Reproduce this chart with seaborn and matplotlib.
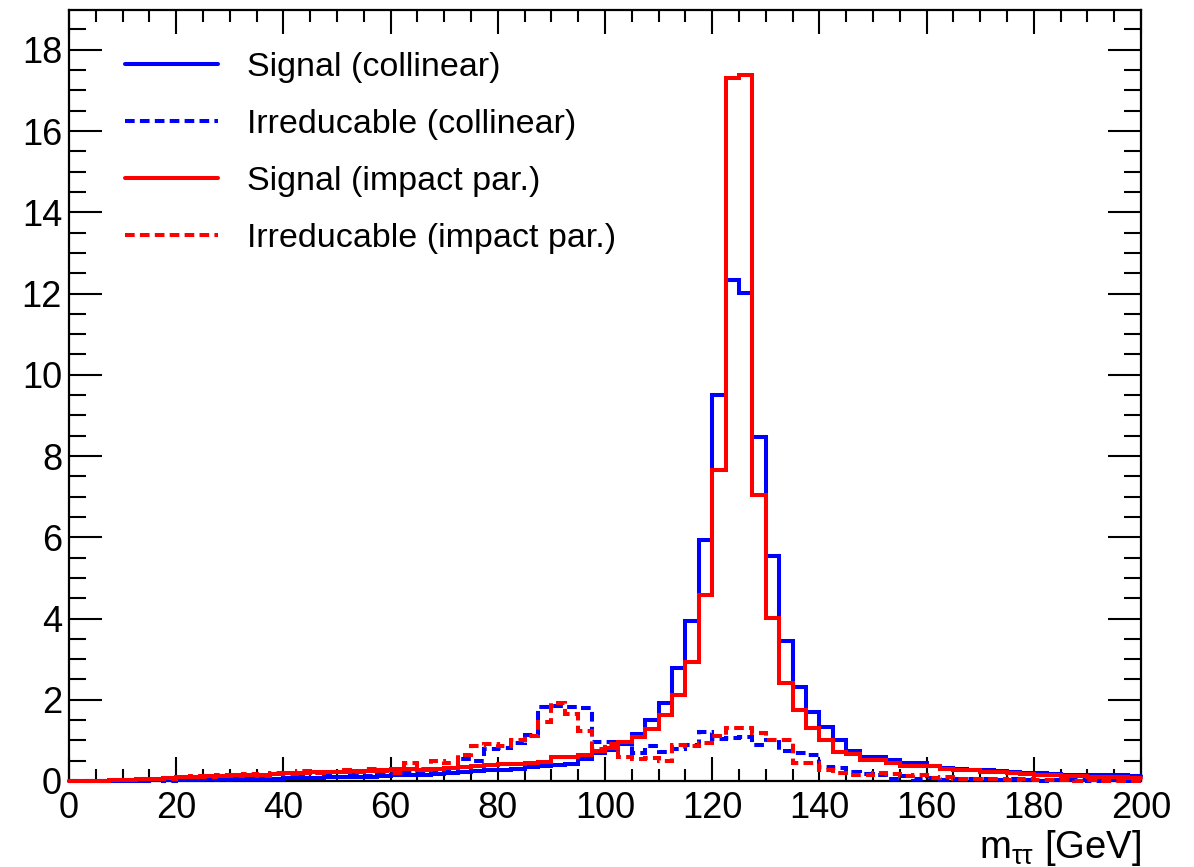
import numpy as np
import pandas as pd
import matplotlib
matplotlib.use("Agg")
import matplotlib.pyplot as plt
from matplotlib.ticker import MultipleLocator
import seaborn as sns

# Di-tau invariant mass, 2.5 GeV bins from 0 to 200 GeV
bin_width = 2.5
mass_range = (0.0, 200.0)

signal_collinear = [
    0.00, 0.00, 0.00, 0.00, 0.01, 0.01, 0.02, 0.02, 0.03, 0.03,
    0.04, 0.04, 0.05, 0.05, 0.06, 0.06, 0.07, 0.07, 0.08, 0.09,
    0.10, 0.10, 0.11, 0.12, 0.14, 0.15, 0.16, 0.17, 0.20, 0.22,
    0.25, 0.26, 0.28, 0.30, 0.34, 0.36, 0.40, 0.42, 0.55, 0.68,
    0.77, 0.92, 1.15, 1.50, 1.92, 2.77, 3.95, 5.94, 9.50, 12.33,
    12.02, 8.47, 5.53, 3.44, 2.31, 1.71, 1.33, 1.01, 0.75, 0.59,
    0.59, 0.52, 0.45, 0.45, 0.36, 0.33, 0.30, 0.28, 0.26, 0.24,
    0.22, 0.20, 0.19, 0.18, 0.16, 0.15, 0.15, 0.16, 0.15, 0.12,
]

irreducible_collinear = [
    0.00, 0.00, 0.00, 0.00, 0.00, 0.01, 0.02, 0.01, 0.04, 0.02,
    0.05, 0.03, 0.06, 0.04, 0.07, 0.05, 0.08, 0.09, 0.07, 0.12,
    0.10, 0.14, 0.12, 0.18, 0.15, 0.22, 0.20, 0.25, 0.30, 0.55,
    0.50, 0.80, 0.82, 0.93, 1.14, 1.83, 1.85, 1.82, 1.80, 0.96,
    0.96, 0.95, 0.70, 0.87, 0.71, 0.80, 0.89, 1.20, 1.04, 1.06,
    1.08, 0.89, 1.00, 0.73, 0.69, 0.63, 0.34, 0.33, 0.22, 0.18,
    0.15, 0.06, 0.12, 0.04, 0.08, 0.03, 0.05, 0.04, 0.05, 0.03,
    0.04, 0.02, 0.01, 0.03, 0.02, 0.03, 0.01, 0.02, 0.02, 0.01,
]

signal_impact = [
    0.01, 0.01, 0.01, 0.02, 0.03, 0.04, 0.06, 0.07, 0.09, 0.10,
    0.12, 0.12, 0.14, 0.15, 0.16, 0.17, 0.19, 0.20, 0.21, 0.22,
    0.23, 0.24, 0.25, 0.27, 0.29, 0.30, 0.27, 0.29, 0.32, 0.34,
    0.37, 0.39, 0.42, 0.42, 0.45, 0.47, 0.58, 0.60, 0.63, 0.75,
    0.82, 0.96, 1.08, 1.29, 1.63, 2.12, 2.94, 4.57, 7.65, 17.30,
    17.39, 7.03, 4.02, 2.42, 1.75, 1.31, 1.00, 0.71, 0.66, 0.52,
    0.52, 0.45, 0.38, 0.38, 0.37, 0.30, 0.28, 0.26, 0.22, 0.21,
    0.19, 0.18, 0.15, 0.14, 0.12, 0.12, 0.10, 0.10, 0.09, 0.08,
]

irreducible_impact = [
    0.01, 0.01, 0.01, 0.02, 0.03, 0.05, 0.04, 0.06, 0.09, 0.12,
    0.10, 0.15, 0.12, 0.18, 0.13, 0.20, 0.17, 0.24, 0.20, 0.22,
    0.26, 0.23, 0.30, 0.25, 0.20, 0.45, 0.30, 0.50, 0.45, 0.65,
    0.85, 0.90, 0.85, 1.00, 1.12, 1.45, 1.92, 1.66, 1.24, 0.80,
    0.92, 0.59, 0.55, 0.57, 0.49, 0.89, 0.86, 0.93, 1.12, 1.30,
    1.30, 1.18, 1.02, 1.02, 0.44, 0.44, 0.26, 0.20, 0.16, 0.16,
    0.20, 0.18, 0.12, 0.14, 0.08, 0.10, 0.06, 0.05, 0.04, 0.05,
    0.03, 0.04, 0.02, 0.02, 0.03, 0.01, 0.02, 0.01, 0.01, 0.01,
]

series_labels = [
    "Signal (collinear)",
    "Irreducable (collinear)",
    "Signal (impact par.)",
    "Irreducable (impact par.)",
]

sns.set_theme(style="ticks")
plt.rcParams["font.family"] = ["Liberation Sans", "DejaVu Sans"]
plt.rcParams["mathtext.fontset"] = "custom"
plt.rcParams["mathtext.rm"] = "Liberation Sans"
plt.rcParams["mathtext.it"] = "Liberation Sans"
plt.rcParams["text.color"] = "black"
plt.rcParams["axes.labelcolor"] = "black"

fig = plt.figure(figsize=(11.94, 8.67), dpi=100)
ax = fig.add_axes([69 / 1194, 86 / 867, 1072 / 1194, 771 / 867])

n_bins = len(signal_collinear)
centers = mass_range[0] + bin_width * (np.arange(n_bins) + 0.5)
BLUE = "#0000ff"
RED = "#ff0000"
LW = 2.9
DASH = (2.4, 1.3)

styles = [
    (signal_collinear, BLUE, None),
    (irreducible_collinear, BLUE, DASH),
    (signal_impact, RED, None),
    (irreducible_impact, RED, DASH),
]

handles = {}
for (values, color, dash), label in zip(styles, series_labels):
    df = pd.DataFrame({"mass": centers, "weight": values})
    kws = dict(linewidth=LW, solid_joinstyle="miter", dash_joinstyle="miter",
               clip_on=False, zorder=3)
    if dash is not None:
        kws["dashes"] = dash
    sns.histplot(data=df, x="mass", weights="weight", binwidth=bin_width,
                 binrange=mass_range, element="step", fill=False,
                 color=color, label=label, ax=ax, **kws)
    handles[label] = ax.get_lines()[-1]

ax.set_xlim(*mass_range)
ax.set_ylim(0, 18.98)
ax.set_ylabel("")

ax.xaxis.set_major_locator(MultipleLocator(20))
ax.xaxis.set_minor_locator(MultipleLocator(5))
ax.yaxis.set_major_locator(MultipleLocator(2))
ax.yaxis.set_minor_locator(MultipleLocator(0.5))

ax.tick_params(axis="both", which="both", direction="in", top=True, right=True,
               width=1.5, colors="black")
ax.tick_params(axis="x", which="major", length=17, pad=7, labelsize=26)
ax.tick_params(axis="x", which="minor", length=8.5)
ax.tick_params(axis="y", which="major", length=23.5, pad=5, labelsize=26)
ax.tick_params(axis="y", which="minor", length=12)

for side in ax.spines.values():
    side.set_visible(True)
    side.set_linewidth(1.6)
    side.set_color("black")

ax.set_xlabel(r"m$_{\mathrm{\tau\tau}}$ [GeV]", fontsize=27.5, ha="right",
              color="black")
ax.xaxis.set_label_coords(1.0, -0.061)

ax.legend([handles[l] for l in series_labels], series_labels,
          loc="upper left", bbox_to_anchor=(0.052, 0.946), frameon=False,
          fontsize=24.5, handlelength=2.73, handletextpad=0.85,
          labelspacing=0.77, borderpad=0, borderaxespad=0,
          labelcolor="black")

fig.savefig("out.png", dpi=100)
